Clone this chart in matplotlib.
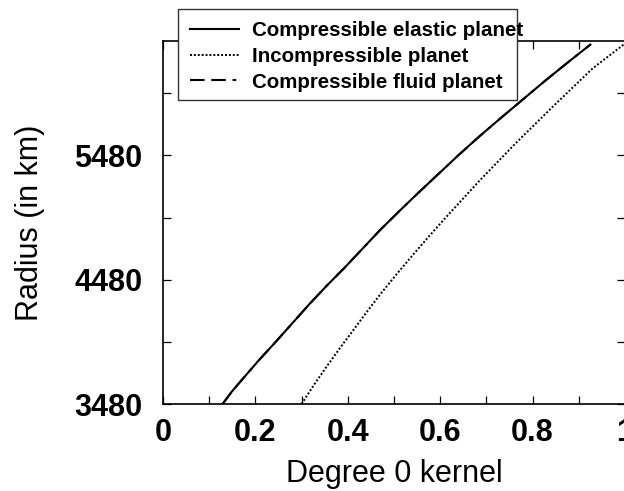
"""Degree 0 kernel versus radius for three planet models."""

import matplotlib

matplotlib.use("Agg")
import matplotlib.pyplot as plt
from matplotlib.lines import Line2D
from matplotlib.patches import Rectangle

plt.rcParams["font.family"] = ["Liberation Sans", "DejaVu Sans"]

# radius samples (km) and kernel values
elastic_radius = [3480, 3580, 3680, 3830, 3980, 4130, 4280, 4430, 4580, 4730, 4880,
                  5030, 5180, 5330, 5480, 5630, 5780, 5930, 6080, 6230, 6371]
elastic_kernel = [0.129, 0.149, 0.172, 0.207, 0.244, 0.280, 0.316, 0.354, 0.394, 0.432, 0.470,
                  0.511, 0.553, 0.596, 0.639, 0.684, 0.731, 0.779, 0.827, 0.877, 0.925]

incompressible_radius = [3480, 3630, 3780, 3930, 4080, 4230, 4380, 4530, 4680, 4830, 4980,
                         5130, 5280, 5430, 5580, 5730, 5880, 6030, 6180, 6371]
incompressible_kernel = [0.300, 0.326, 0.354, 0.383, 0.413, 0.443, 0.474, 0.507, 0.541, 0.576, 0.612,
                         0.649, 0.686, 0.725, 0.764, 0.805, 0.846, 0.888, 0.930, 0.997]

# the fluid curve lies under the elastic one
fluid_radius = elastic_radius
fluid_kernel = elastic_kernel

labels = [
    "Compressible elastic planet",
    "Incompressible planet",
    "Compressible fluid planet",
]

x_ticks = [0, 0.2, 0.4, 0.6, 0.8, 1.0]
x_ticklabels = ["0", "0.2", "0.4", "0.6", "0.8", "1"]
x_minor = [0.1, 0.3, 0.5, 0.7, 0.9]
y_ticks = [3480, 4480, 5480]
y_minor = [3980, 4980, 5980]

W, H = 624, 491
fig = plt.figure(figsize=(W / 100, H / 100), dpi=100)
ax = fig.add_axes([163 / W, 1 - 404 / H, (625 - 163) / W, (404 - 41) / H])

fluid_style = dict(color="black", lw=1.5, linestyle=(0, (7, 3.2, 7, 3.2, 1.8, 5)))
elastic_style = dict(color="black", lw=1.5, linestyle="-")
incomp_style = dict(color="black", lw=1.4, linestyle=(0, (1, 1.0)))

ax.plot(fluid_kernel, fluid_radius, **fluid_style)
ax.plot(elastic_kernel, elastic_radius, **elastic_style)
ax.plot(incompressible_kernel, incompressible_radius, **incomp_style)

ax.set_xlim(0, 1)
ax.set_ylim(3480, 6400)
ax.set_xticks(x_ticks)
ax.set_xticklabels(x_ticklabels)
ax.set_xticks(x_minor, minor=True)
ax.set_yticks(y_ticks)
ax.set_yticks(y_minor, minor=True)
ax.tick_params(which="both", direction="in", top=True, right=True,
               length=6, width=0.9, labelsize=22)
ax.tick_params(axis="x", pad=10)
ax.tick_params(axis="y", pad=15)
for lab in ax.get_xticklabels() + ax.get_yticklabels():
    lab.set_fontweight("bold")
for spine in ax.spines.values():
    spine.set_linewidth(1.2)

ax.set_xlabel("Degree 0 kernel", fontsize=22, labelpad=8)
ax.set_ylabel("Radius (in km)", fontsize=22, labelpad=21)

# legend box sits over the top of the axes
box = Rectangle((178 / W, 1 - 100 / H), (517 - 178) / W, (100 - 9) / H,
                transform=fig.transFigure, facecolor="white",
                edgecolor="#333333", lw=1.0, zorder=5)
fig.patches.append(box)

handles = [Line2D([], [], **elastic_style),
           Line2D([], [], **incomp_style),
           Line2D([], [], **fluid_style)]
leg = fig.legend(handles, labels, loc="upper left",
                 bbox_to_anchor=(190 / W, 1 - 21 / H),
                 bbox_transform=fig.transFigure, frameon=False,
                 borderpad=0, borderaxespad=0, handlelength=2.4,
                 handletextpad=0.6, labelspacing=0.33,
                 prop={"weight": "bold", "size": 14.8})
leg.set_zorder(6)

fig.savefig("out.png", dpi=100)
